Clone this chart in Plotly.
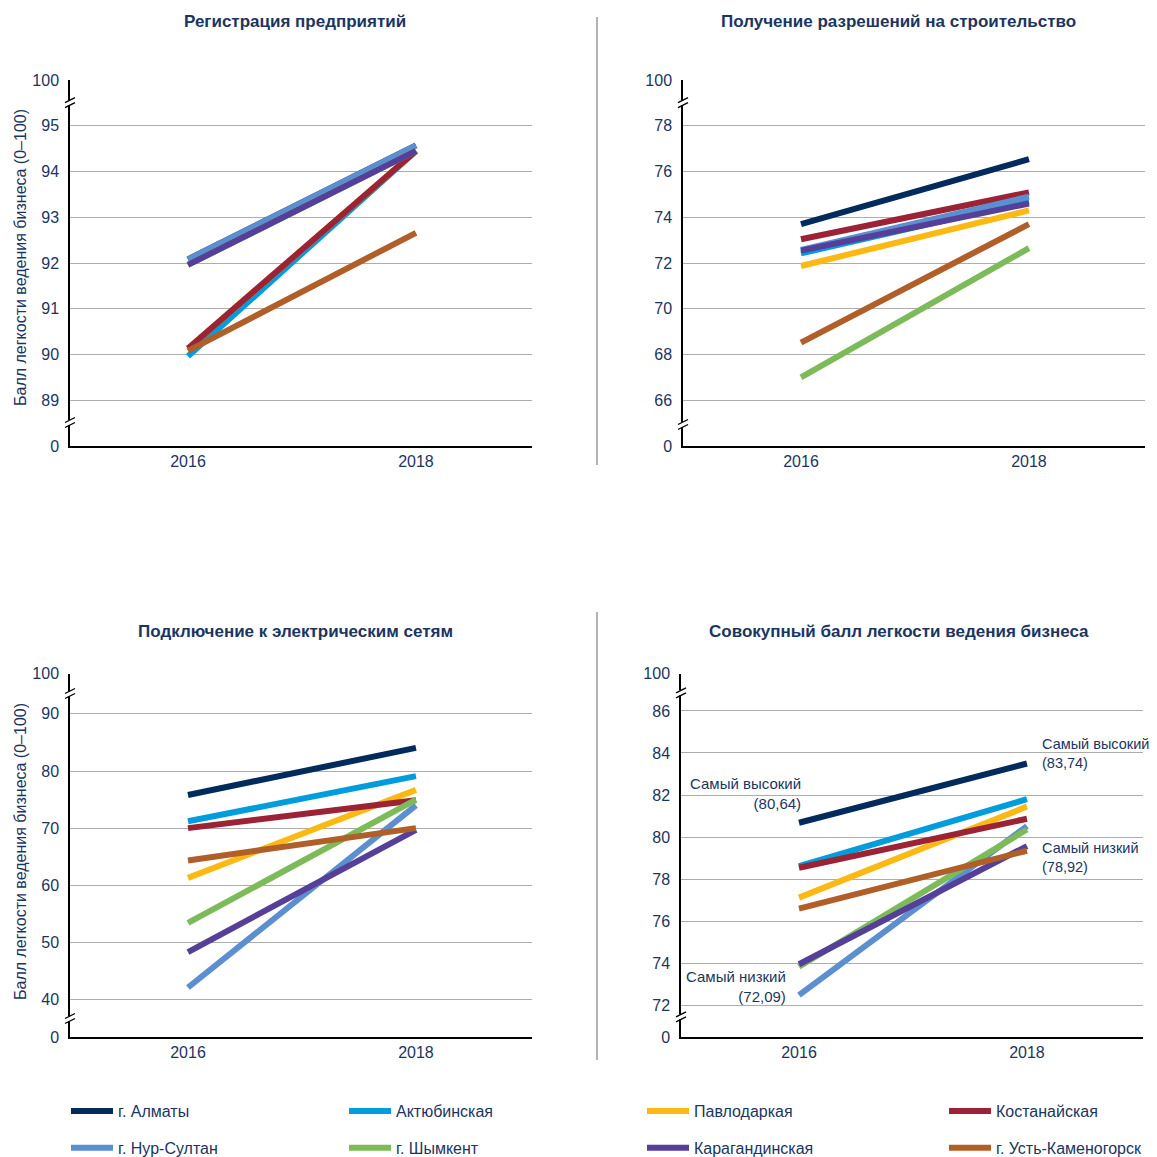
import plotly.graph_objects as go

# ---------------- data ----------------
years = [2016, 2018]
regions = ["г. Алматы", "Актюбинская", "Павлодаркая", "Костанайская",
           "г. Нур-Султан", "г. Шымкент", "Карагандинская", "г. Усть-Каменогорск"]
colors = ["#002B5C", "#009DDC", "#FDB913", "#9B2335",
          "#5B8FD0", "#7DBB5A", "#553F99", "#B05F28"]

reg_2016 = [92.08, 89.96, 90.13, 90.13, 92.08, 91.96, 91.96, 90.08]
reg_2018 = [94.57, 94.45, 94.45, 94.45, 94.57, 94.45, 94.45, 92.66]

bld_2016 = [73.70, 72.42, 71.87, 73.04, 72.57, 67.00, 72.54, 68.52]
bld_2018 = [76.54, 74.70, 74.30, 75.09, 74.90, 72.65, 74.60, 73.70]

ele_2016 = [75.8, 71.2, 61.3, 70.0, 42.1, 53.4, 48.3, 64.35]
ele_2018 = [84.06, 79.1, 76.7, 74.9, 74.0, 75.0, 69.7, 70.0]

tot_2016 = [80.68, 78.62, 77.12, 78.54, 72.48, 73.83, 73.95, 76.60]
tot_2018 = [83.50, 81.80, 81.45, 80.87, 80.52, 80.36, 79.57, 79.35]

titles = ["Регистрация предприятий", "Получение разрешений на строительство",
          "Подключение к электрическим сетям", "Совокупный балл легкости ведения бизнеса"]
ytitle = "Балл легкости ведения бизнеса (0–100)"

ticks1 = [89, 90, 91, 92, 93, 94, 95]
ticks2 = [66, 68, 70, 72, 74, 76, 78]
ticks3 = [40, 50, 60, 70, 80, 90]
ticks4 = [72, 74, 76, 78, 80, 82, 84, 86]

# ---------------- layout helpers ----------------
OFF = 8            # page body margin
W = 1157 - OFF
NAVY = "#1B3562"
FONT = "Liberation Sans, Arial, sans-serif"
FS = 16

def px_x(p):
    return (p - OFF) / W

def px_y(p):
    return 1 - (p - OFF) / W

# panel boxes (left, right, top, bottom) in page pixels, and virtual y-range (bottom "0", top "100")
panels = [
    dict(box=(70, 532, 80, 446), yr=(88, 96), ticks=ticks1, d16=reg_2016, d18=reg_2018,
         brk=(102.7, 422.5), tx=295, ty=21),
    dict(box=(683, 1145, 80, 446), yr=(64, 80), ticks=ticks2, d16=bld_2016, d18=bld_2018,
         brk=(102.7, 424.5), tx=898, ty=21),
    dict(box=(70, 532, 673.5, 1037), yr=(33.44, 97.07), ticks=ticks3, d16=ele_2016, d18=ele_2018,
         brk=(693.5, 1018.5), tx=295, ty=631),
    dict(box=(681, 1143, 673.5, 1037), yr=(70.49, 87.78), ticks=ticks4, d16=tot_2016, d18=tot_2018,
         brk=(692.8, 1016.8), tx=899, ty=631),
]

fig = go.Figure()

shapes = []
annotations = []

for k, p in enumerate(panels):
    l, r, t, b = p["box"]
    xa = "xaxis" if k == 0 else f"xaxis{k+1}"
    ya = "yaxis" if k == 0 else f"yaxis{k+1}"
    xr = "x" if k == 0 else f"x{k+1}"
    yr = "y" if k == 0 else f"y{k+1}"
    for i, name in enumerate(regions):
        fig.add_trace(go.Scatter(
            x=years, y=[p["d16"][i], p["d18"][i]], mode="lines",
            line=dict(color=colors[i], width=6),
            name=name, legendgroup=name,
            legend=("legend" if i % 4 == 0 else f"legend{i % 4 + 1}"),
            showlegend=(k == 0), xaxis=xr, yaxis=yr, hoverinfo="skip"))
    lo, hi = p["yr"]
    fig.update_layout({
        xa: dict(domain=[px_x(l), px_x(r)], range=[2014.965, 2019.018],
                 tickvals=years, ticktext=[str(v) for v in years],
                 showline=True, linecolor="#000000", linewidth=2, showgrid=False,
                 zeroline=False, ticks="", tickfont=dict(family=FONT, size=FS, color=NAVY),
                 anchor=yr, fixedrange=True),
        ya: dict(domain=[px_y(b), px_y(t)], range=[lo, hi],
                 tickvals=[lo] + p["ticks"] + [hi],
                 ticktext=["0"] + [str(v) for v in p["ticks"]] + ["100"],
                 showline=True, linecolor="#000000", linewidth=1.5,
                 showgrid=True, gridcolor="#ADADAD", gridwidth=1.2,
                 zeroline=False, ticks="", ticklabelstandoff=6,
                 tickfont=dict(family=FONT, size=FS, color=NAVY),
                 anchor=xr, fixedrange=True),
    })
    # axis break marks
    for yb in p["brk"]:
        shapes.append(dict(type="rect", xref="paper", yref="paper",
                           x0=px_x(l - 2), x1=px_x(l + 2), y0=px_y(yb + 2.5), y1=px_y(yb - 2.5),
                           line=dict(width=0), fillcolor="white", layer="above"))
        for off in (-2.5, 2.5):
            shapes.append(dict(type="line", xref="paper", yref="paper",
                               x0=px_x(l - 5), y0=px_y(yb + off + 2.5),
                               x1=px_x(l + 5), y1=px_y(yb + off - 2.5),
                               line=dict(color="#000000", width=1.3), layer="above"))
    # panel title
    annotations.append(dict(text=f"<b>{titles[k]}</b>", xref="paper", yref="paper",
                            x=px_x(p["tx"]), y=px_y(p["ty"]),
                            xanchor="center", yanchor="middle", showarrow=False,
                            font=dict(family=FONT, size=17, color=NAVY)))

# y-axis titles (left column)
for yc in (258, 852):
    annotations.append(dict(text=ytitle, xref="paper", yref="paper", x=px_x(20), y=px_y(yc),
                            textangle=-90, xanchor="center", yanchor="middle", showarrow=False,
                            font=dict(family=FONT, size=FS, color=NAVY)))

# callouts in the total-score panel
callouts = [
    ("Самый высокий<br>(80,64)", 803, 793, "right", 15),
    ("Самый низкий<br>(72,09)", 788, 986, "right", 15),
    ("Самый высокий<br>(83,74)", 1040, 753, "left", 14.5),
    ("Самый низкий<br>(78,92)", 1040, 857, "left", 14.5),
]
for txt, xp, yp, al, fs in callouts:
    annotations.append(dict(text=txt, xref="paper", yref="paper", x=px_x(xp), y=px_y(yp),
                            xanchor=al, yanchor="middle", align=al, showarrow=False,
                            font=dict(family=FONT, size=fs, color=NAVY)))

# dividers
for y0, y1 in ((17, 465), (612, 1060)):
    shapes.append(dict(type="line", xref="paper", yref="paper", x0=px_x(597), x1=px_x(597),
                       y0=px_y(y0), y1=px_y(y1), line=dict(color="#9A9A9A", width=1.5)))

# legends (four columns)
leg_x = [72, 350, 648, 950]
legend_common = dict(orientation="v", yanchor="top", xanchor="left", bgcolor="rgba(0,0,0,0)",
                     tracegroupgap=13, itemwidth=42,
                     font=dict(family=FONT, size=FS, color=NAVY),
                     itemclick=False, itemdoubleclick=False)
lay_leg = {}
for j, xp in enumerate(leg_x):
    key = "legend" if j == 0 else f"legend{j+1}"
    lay_leg[key] = dict(legend_common, x=px_x(xp - 6), y=px_y(1094))

fig.update_layout(
    width=W, height=W, autosize=False,
    margin=dict(l=0, r=0, t=0, b=0, autoexpand=False),
    paper_bgcolor="white", plot_bgcolor="white",
    shapes=shapes, annotations=annotations,
    showlegend=True,
    **lay_leg,
)

fig.write_html("out.html")
